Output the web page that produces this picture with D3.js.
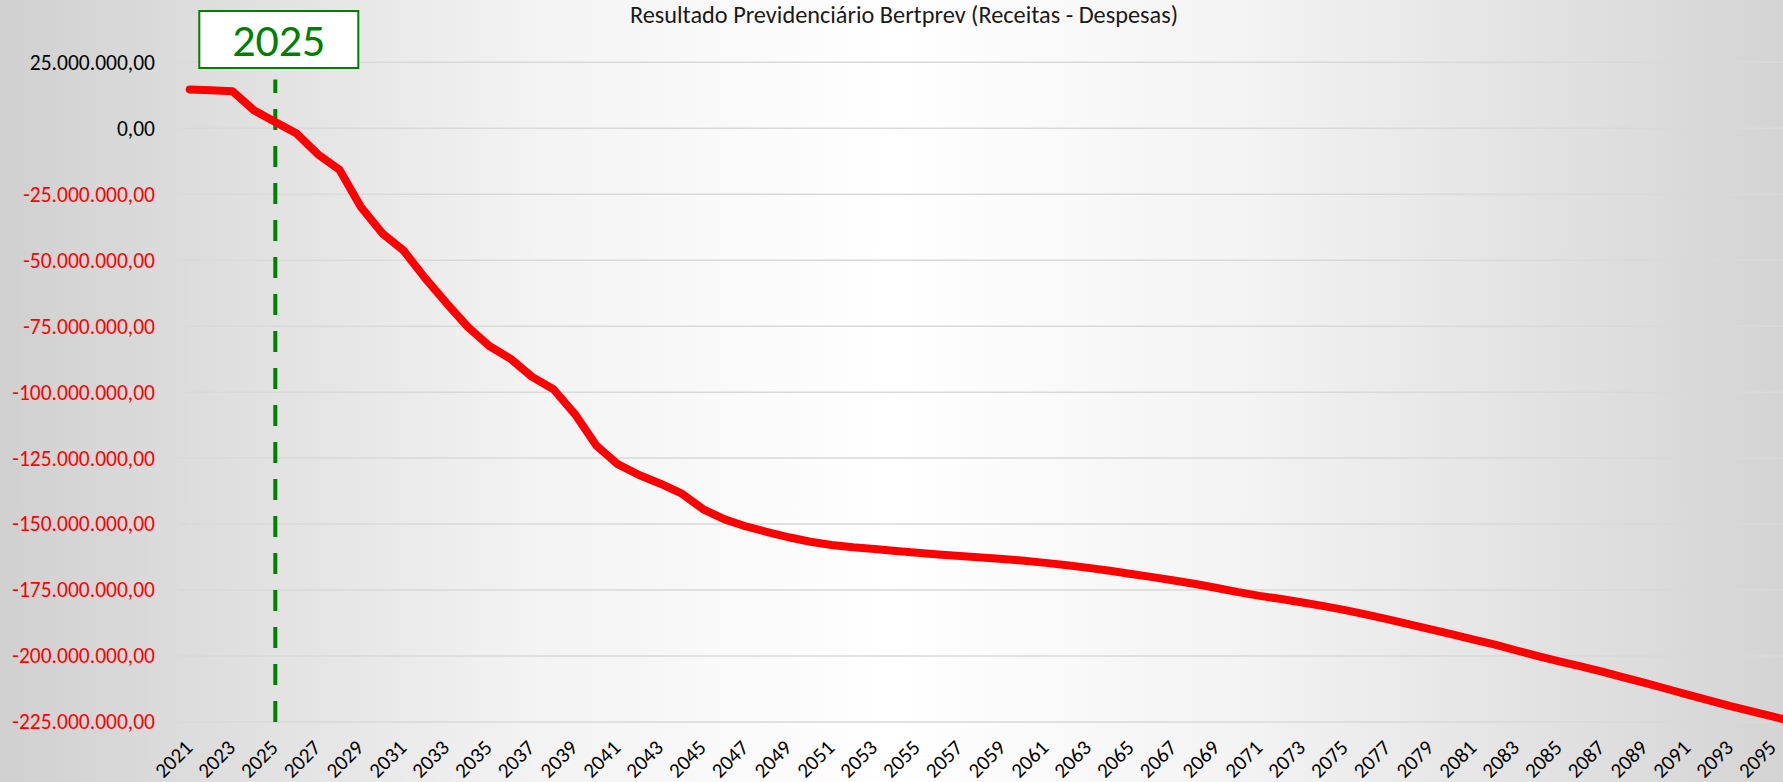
<!DOCTYPE html>
<html>
<head>
	<title>Resultado Previdenciário Bertprev</title>
	<script src="https://d3js.org/d3.v7.min.js" charset="utf-8"></script>
	<style>
		body { margin: 0; overflow: hidden; }
		text { font-family: Calibri, Carlito, Lato, "Liberation Sans", Arial, sans-serif; }
	</style>
</head>
<body>
	<svg width="1783" height="782"></svg>
	<script>
		const width = 1783;
		const height = 782;

		// anos (categorias) - o grafico original segue alem da borda direita
		var years = [2021, 2022, 2023, 2024, 2025, 2026, 2027, 2028, 2029, 2030,
			2031, 2032, 2033, 2034, 2035, 2036, 2037, 2038, 2039, 2040,
			2041, 2042, 2043, 2044, 2045, 2046, 2047, 2048, 2049, 2050,
			2051, 2052, 2053, 2054, 2055, 2056, 2057, 2058, 2059, 2060,
			2061, 2062, 2063, 2064, 2065, 2066, 2067, 2068, 2069, 2070,
			2071, 2072, 2073, 2074, 2075, 2076, 2077, 2078, 2079, 2080,
			2081, 2082, 2083, 2084, 2085, 2086, 2087, 2088, 2089, 2090,
			2091, 2092, 2093, 2094, 2095, 2096];

		// resultado (receitas - despesas), em milhoes
		var resultado = [14.7, 14.4, 14.0, 6.8, 2.4, -2.0, -9.9, -15.7, -29.8, -39.8,
			-46.4, -56.8, -66.3, -75.3, -82.5, -87.4, -94.2, -98.9, -108.3, -120.2,
			-127.3, -131.4, -134.7, -138.5, -144.4, -148.2, -150.9, -153.0, -155.0, -156.7,
			-157.9, -158.8, -159.4, -160.2, -160.9, -161.5, -162.1, -162.7, -163.2, -163.9,
			-164.7, -165.6, -166.6, -167.7, -168.9, -170.1, -171.4, -172.7, -174.2, -175.8,
			-177.2, -178.4, -179.7, -181.1, -182.6, -184.3, -186.1, -188.0, -189.9, -191.8,
			-193.8, -195.7, -197.9, -200.0, -202.0, -203.9, -205.9, -208.1, -210.2, -212.4,
			-214.6, -216.8, -219.0, -221.0, -223.0, -225.0];

		var yTicks = [25e6, 0, -25e6, -50e6, -75e6, -100e6, -125e6, -150e6, -175e6, -200e6, -225e6];
		var xTickYears = years.filter(function(y) { return y % 2 == 1 && y <= 2095; });
		var markYear = 2025;
		var title = "Resultado Previdenciário Bertprev (Receitas - Despesas)";

		var data = years.map(function(y, i) { return { year: y, value: resultado[i] * 1e6 }; });

		var ptBR = d3.formatLocale({ decimal: ",", thousands: ".", grouping: [3], currency: ["R$", ""], minus: "-" });
		var fmt = ptBR.format(",.2f");

		var svg = d3.select('svg');

		// fundo em degrade (cinza nas bordas, branco no centro)
		var defs = svg.append('defs');
		var grad = defs.append('linearGradient').attr('id', 'bg').attr('x1', '0').attr('x2', '1').attr('y1', '0').attr('y2', '0');
		grad.append('stop').attr('offset', '0').attr('stop-color', '#d0d0d0');
		grad.append('stop').attr('offset', '0.3').attr('stop-color', '#f3f3f3');
		grad.append('stop').attr('offset', '0.5').attr('stop-color', '#ffffff');
		grad.append('stop').attr('offset', '0.7').attr('stop-color', '#f3f3f3');
		grad.append('stop').attr('offset', '1').attr('stop-color', '#d4d4d4');
		svg.append('rect').attr('width', width).attr('height', height).attr('fill', 'url(#bg)');

		const xScale = d3.scaleBand()
			.domain(years)
			.range([179, 179 + years.length * 21.4]);
		const xc = function(y) { return xScale(y) + xScale.bandwidth() / 2; };

		const yScale = d3.scaleLinear()
			.domain([-225e6, 25e6])
			.range([722, 62.3]);

		// linhas de grade
		svg.append('g')
			.selectAll('line')
			.data(yTicks)
			.enter()
			.append('line')
			.attr('x1', xScale.range()[0])
			.attr('x2', xScale.range()[1])
			.attr('y1', function(d) { return yScale(d); })
			.attr('y2', function(d) { return yScale(d); })
			.attr('stroke', '#d9d9d9')
			.attr('stroke-width', 1.5);

		// eixo y
		const yAxis = svg.append('g')
			.attr('transform', 'translate(179,0)')
			.call(d3.axisLeft(yScale).tickValues(yTicks).tickFormat(fmt).tickSize(0).tickPadding(24));
		yAxis.select('.domain').remove();
		yAxis.selectAll('text')
			.attr('font-size', '21.5px')
			.attr('font-family', null)
			.attr('fill', function(d) { return d < 0 ? '#ff0000' : '#000000'; });

		// eixo x (rotulos a cada 2 anos, girados)
		const xAxis = svg.append('g')
			.attr('transform', 'translate(0,722)')
			.call(d3.axisBottom(xScale).tickValues(xTickYears).tickSize(0).tickFormat(d3.format('d')));
		xAxis.select('.domain').remove();
		xAxis.selectAll('text')
			.attr('font-size', '21px')
			.attr('font-family', null)
			.attr('fill', '#000')
			.attr('text-anchor', 'end')
			.attr('dy', null)
			.attr('y', 0)
			.attr('transform', 'translate(4,27) rotate(-45)');

		// linha tracejada do ano de referencia
		svg.append('line')
			.attr('x1', xc(markYear))
			.attr('x2', xc(markYear))
			.attr('y1', yScale(-225e6))
			.attr('y2', yScale(18.5e6))
			.attr('stroke', '#008000')
			.attr('stroke-width', 4)
			.attr('stroke-dasharray', '21,16');

		// serie
		const line = d3.line()
			.x(function(d) { return xc(d.year); })
			.y(function(d) { return yScale(d.value); });

		svg.append('path')
			.datum(data)
			.attr('d', line)
			.attr('fill', 'none')
			.attr('stroke', '#ff0000')
			.attr('stroke-width', 8)
			.attr('stroke-linejoin', 'round')
			.attr('stroke-linecap', 'round');

		// caixa 2025
		const box = svg.append('g');
		box.append('rect')
			.attr('x', xc(markYear) - 76)
			.attr('y', 11)
			.attr('width', 159)
			.attr('height', 57)
			.attr('fill', '#ffffff')
			.attr('stroke', '#008000')
			.attr('stroke-width', 2);
		box.append('text')
			.attr('x', xc(markYear) + 3.5)
			.attr('y', 56)
			.attr('text-anchor', 'middle')
			.attr('font-size', '46px')
			.attr('fill', '#008000')
			.text(markYear);

		// titulo
		svg.append('text')
			.attr('x', 904)
			.attr('y', 23)
			.attr('text-anchor', 'middle')
			.attr('font-size', '24.3px')
			.attr('fill', '#1a1a1a')
			.text(title);
	</script>
</body>
</html>
